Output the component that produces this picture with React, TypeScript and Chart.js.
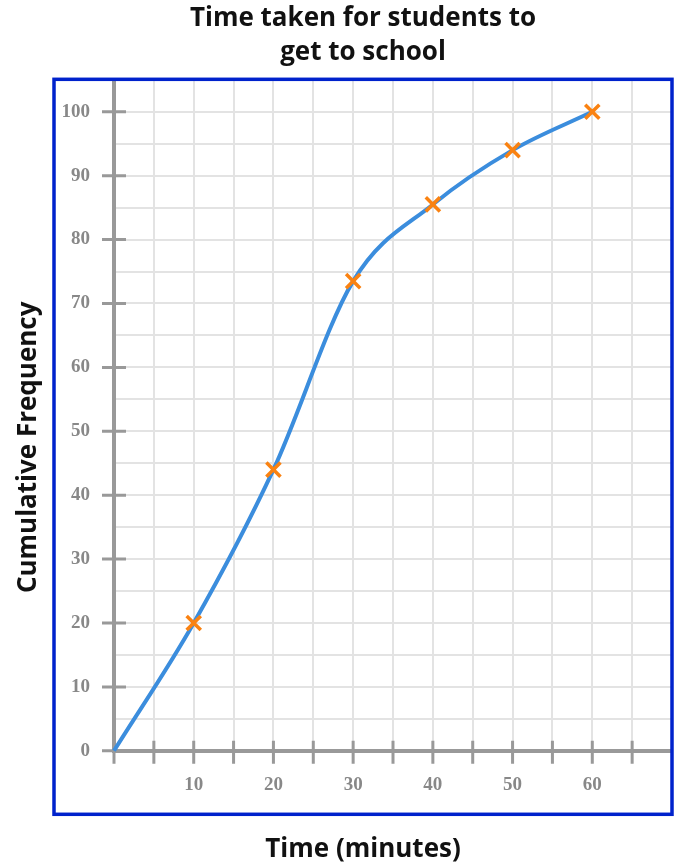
import { useEffect, useRef } from "react";
import { Chart, registerables, type ChartConfiguration } from "chart.js";

Chart.register(...registerables);

const times = [0, 10, 20, 30, 40, 50, 60];
const cumFreq = [0, 20, 44, 73.5, 85.5, 94, 100];
const xLabels = [10, 20, 30, 40, 50, 60];
const yLabels = [0, 10, 20, 30, 40, 50, 60, 70, 80, 90, 100];
const xTickMarks = [0, 5, 10, 15, 20, 25, 30, 35, 40, 45, 50, 55, 60, 65];
const yTickMarks = [0, 10, 20, 30, 40, 50, 60, 70, 80, 90, 100];

const TITLE = ["Time taken for students to", "get to school"];
const X_TITLE = "Time (minutes)";
const Y_TITLE = "Cumulative Frequency";

const C = {
  line: "#3b8ddd",
  cross: "#fa8211",
  axis: "#999999",
  grid: "#e3e3e3",
  tick: "#888888",
  frame: "#0022cc",
  text: "#111111"
};

const sans = "'Open Sans', Lato, sans-serif";

// frame box, cross-shaped axis ticks and the rotated y title
const decor = {
  id: "decor",
  beforeDatasetsDraw(chart: Chart) {
    const { ctx, chartArea } = chart;
    const xs = chart.scales.x;
    const ys = chart.scales.y;
    ctx.save();
    ctx.strokeStyle = C.axis;
    ctx.lineWidth = 3;
    ctx.beginPath();
    for (const v of xTickMarks) {
      const px = xs.getPixelForValue(v);
      ctx.moveTo(px, chartArea.bottom - 10);
      ctx.lineTo(px, chartArea.bottom + 13);
    }
    for (const v of yTickMarks) {
      const py = ys.getPixelForValue(v);
      ctx.moveTo(chartArea.left - 12, py);
      ctx.lineTo(chartArea.left + (v === 0 ? 0 : 12), py);
    }
    ctx.stroke();
    ctx.restore();
  },
  afterDraw(chart: Chart) {
    const { ctx, chartArea } = chart;
    ctx.save();
    ctx.strokeStyle = C.frame;
    ctx.lineWidth = 3.5;
    ctx.strokeRect(chartArea.left - 60, chartArea.top - 0.5, chartArea.right - chartArea.left + 60, chartArea.bottom - chartArea.top + 64);
    ctx.translate(29, (chartArea.top + chartArea.bottom + 64) / 2);
    ctx.rotate(-Math.PI / 2);
    ctx.fillStyle = C.text;
    ctx.font = `bold 26px ${sans}`;
    ctx.textAlign = "center";
    ctx.textBaseline = "middle";
    ctx.fillText(Y_TITLE, 0, 0);
    ctx.restore();
  }
};

function useChart(config: ChartConfiguration) {
  const ref = useRef<HTMLCanvasElement | null>(null);
  useEffect(() => {
    if (!ref.current) return;
    const chart = new Chart(ref.current, config);
    return () => chart.destroy();
  }, []);
  return ref;
}

const tickFont = { family: "'Liberation Serif', 'Times New Roman', serif", size: 19, weight: "bold" as const };

export default function App() {
  const ref = useChart({
    type: "line",
    data: {
      datasets: [
        {
          data: times.map((t, i) => ({ x: t, y: cumFreq[i] })),
          borderColor: C.line,
          borderWidth: 4,
          cubicInterpolationMode: "monotone",
          pointStyle: "crossRot",
          pointRadius: (c: any) => (c.dataIndex === 0 ? 0 : 10),
          pointBorderColor: C.cross,
          pointBorderWidth: 3.5,
          pointBackgroundColor: C.cross,
          clip: false
        }
      ]
    },
    options: {
      animation: false,
      responsive: true,
      maintainAspectRatio: false,
      layout: { autoPadding: false, padding: { left: 54, right: 4, top: 0, bottom: 0 } },
      plugins: {
        legend: { display: false },
        tooltip: { enabled: false },
        title: {
          display: true,
          text: TITLE,
          color: C.text,
          font: { family: sans, size: 26, weight: "bold", lineHeight: 1.285 },
          padding: { top: 2, bottom: 11 }
        },
        subtitle: {
          display: true,
          position: "bottom",
          text: X_TITLE,
          color: C.text,
          font: { family: sans, size: 26, weight: "bold", lineHeight: 1.2 },
          padding: { top: 19, bottom: 3 }
        }
      },
      scales: {
        x: {
          type: "linear",
          min: 0,
          max: 70,
          afterFit: (s: any) => {
            s.height = 64;
            s.paddingLeft = 0;
            s.paddingRight = 0;
          },
          ticks: {
            stepSize: 5,
            padding: 23,
            maxRotation: 0,
            autoSkip: false,
            color: C.tick,
            font: tickFont,
            callback: (v: any) => (xLabels.includes(Number(v)) ? String(v) : "")
          },
          grid: { color: C.grid, lineWidth: 2, drawTicks: false },
          border: { display: true, color: C.axis, width: 4 }
        },
        y: {
          type: "linear",
          min: 0,
          max: 105,
          afterFit: (s: any) => {
            s.width = 60;
            s.paddingTop = 0;
            s.paddingBottom = 0;
          },
          ticks: {
            stepSize: 5,
            padding: 24,
            autoSkip: false,
            color: C.tick,
            font: tickFont,
            callback: (v: any) => (yLabels.includes(Number(v)) ? String(v) : "")
          },
          grid: { color: C.grid, lineWidth: 2, drawTicks: false },
          border: { display: true, color: C.axis, width: 4 }
        }
      }
    },
    plugins: [decor]
  } as ChartConfiguration);

  return (
    <div style={{ position: "absolute", left: 0, top: 0, width: 676, height: 868, background: "#fff" }}>
      <canvas ref={ref} />
    </div>
  );
}
